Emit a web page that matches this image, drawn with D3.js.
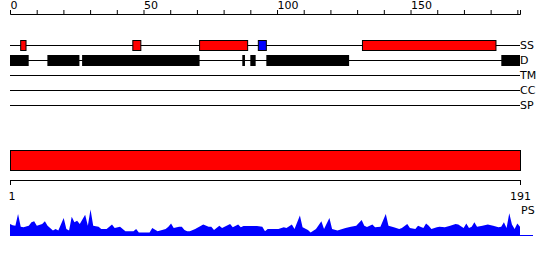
<!DOCTYPE html>
<html>
<head>
<meta charset="utf-8">
<script src="https://cdn.jsdelivr.net/npm/d3@7"></script>
<style>
  body { margin: 0; background: #fff; }
  svg { display: block; font-family: "DejaVu Sans", sans-serif; font-size: 11px; }
</style>
</head>
<body>
<svg width="550" height="260"></svg>
<script>
var svg = d3.select('svg');

// tracks and their features (residue ranges)
var tracks = ["SS", "D", "TM", "CC", "SP"];
var ssHelix = [[4, 6], [46, 49], [71, 89], [132, 182]];
var ssStrand = [[93, 96]];
var disorder = [[0, 7], [14, 26], [27, 71], [87, 88], [90, 92], [96, 127], [184, 191]];
var domains = [[1, 191]];
var seqEnds = [1, 191];
var topLabels = [0, 50, 100, 150];

// PS profile
var psPos = [1, 2, 3, 4, 5, 6, 8, 9, 10, 11, 13, 14, 15, 17, 18, 19, 21, 22, 23, 24, 25, 26, 27, 29, 30, 31, 32, 34, 35, 37,
    39, 40, 42, 44, 47, 48, 49, 53, 54, 56, 59, 60, 61, 62, 64, 65, 66, 67, 68, 70, 73, 75, 76, 77, 79, 80, 83, 84, 86, 87,
    88, 91, 93, 95, 96, 97, 101, 103, 104, 106, 107, 109, 110, 112, 113, 115, 117, 118, 120, 121, 123, 126, 128, 130, 132, 133, 134, 136, 137, 139,
    141, 142, 144, 146, 147, 149, 150, 152, 153, 155, 156, 157, 158, 160, 161, 163, 165, 167, 168, 170, 171, 172, 173, 174, 175, 177, 179, 181, 183, 184,
    185, 186, 187, 188, 189, 190, 191];
var psVal = [0.40, 0.36, 0.34, 0.73, 0.31, 0.29, 0.34, 0.46, 0.49, 0.34, 0.40, 0.49, 0.34, 0.18, 0.23, 0.18, 0.60, 0.23, 0.18, 0.64, 0.46, 0.51, 0.40, 0.71, 0.34, 0.88, 0.34, 0.31, 0.23, 0.23,
    0.38, 0.27, 0.31, 0.16, 0.16, 0.23, 0.12, 0.12, 0.27, 0.16, 0.23, 0.31, 0.42, 0.27, 0.31, 0.31, 0.20, 0.16, 0.16, 0.23, 0.38, 0.31, 0.31, 0.20, 0.34, 0.27, 0.40, 0.29, 0.38, 0.29,
    0.33, 0.33, 0.33, 0.31, 0.16, 0.23, 0.23, 0.29, 0.27, 0.38, 0.23, 0.68, 0.29, 0.20, 0.12, 0.23, 0.49, 0.23, 0.60, 0.23, 0.18, 0.27, 0.31, 0.34, 0.53, 0.34, 0.30, 0.38, 0.29, 0.31,
    0.73, 0.34, 0.29, 0.23, 0.27, 0.40, 0.27, 0.23, 0.34, 0.27, 0.42, 0.34, 0.23, 0.29, 0.31, 0.29, 0.34, 0.40, 0.38, 0.27, 0.42, 0.27, 0.31, 0.46, 0.31, 0.34, 0.38, 0.34, 0.29, 0.31,
    0.46, 0.27, 0.76, 0.38, 0.23, 0.42, 0.31];

var x = d3.scaleLinear().domain([0, 191]).range([10, 520]);
var x2 = d3.scaleLinear().domain([1, 191]).range([10, 520]);
var yTrack = d3.scalePoint().domain(tracks).range([45.5, 105.5]);
var yPs = d3.scaleLinear().domain([0, 1]).range([236, 206]);

// top ruler
var topAxis = d3.axisTop(x)
    .tickValues(d3.range(0, 191, 10))
    .tickSize(4)
    .tickSizeOuter(4)
    .tickPadding(1)
    .tickFormat(function(d) { return topLabels.indexOf(d) >= 0 ? d : ""; });
var gTop = svg.append("g").attr("transform", "translate(0,14)").call(topAxis);
gTop.selectAll("text").attr("text-anchor", "start").attr("fill", "#000")
    .style("font-size", "11px").style("font-family", "DejaVu Sans");
gTop.selectAll("path, line").attr("stroke", "#000");

// track lines + labels
svg.selectAll(".track")
    .data(tracks)
    .enter()
    .append("line")
    .attr("x1", x(0))
    .attr("x2", x(191))
    .attr("y1", function(d) { return yTrack(d); })
    .attr("y2", function(d) { return yTrack(d); })
    .attr("stroke", "black");

svg.selectAll(".tlabel")
    .data(tracks)
    .enter()
    .append("text")
    .attr("x", x(191))
    .attr("y", function(d) { return yTrack(d); })
    .attr("dy", "0.35em")
    .text(function(d) { return d; });

// disorder
svg.selectAll(".dis")
    .data(disorder)
    .enter()
    .append("rect")
    .attr("x", function(d) { return x(d[0]); })
    .attr("width", function(d) { return x(d[1]) - x(d[0]); })
    .attr("y", yTrack("D") - 5.5)
    .attr("height", 11)
    .attr("fill", "black");

// secondary structure
function ssBoxes(data, color) {
    svg.selectAll(null)
        .data(data)
        .enter()
        .append("rect")
        .attr("x", function(d) { return x(d[0]); })
        .attr("width", function(d) { return x(d[1]) - x(d[0]); })
        .attr("y", yTrack("SS") - 5)
        .attr("height", 10)
        .attr("fill", color)
        .attr("stroke", "black");
}
ssBoxes(ssHelix, "#ff0000");
ssBoxes(ssStrand, "#0000ff");

// domain bar
svg.selectAll(".dom")
    .data(domains)
    .enter()
    .append("rect")
    .attr("x", function(d) { return x2(d[0]) + 0.5; })
    .attr("width", function(d) { return x2(d[1]) - x2(d[0]); })
    .attr("y", 150.5)
    .attr("height", 20)
    .attr("fill", "#ff0000")
    .attr("stroke", "black");

// lower ruler
var botAxis = d3.axisBottom(x2)
    .tickValues(seqEnds)
    .tickSize(5)
    .tickSizeOuter(5)
    .tickPadding(7)
    .tickFormat(d3.format("d"));
var gBot = svg.append("g").attr("transform", "translate(0,180)").call(botAxis);
gBot.selectAll("text").attr("fill", "#000")
    .style("font-size", "11px").style("font-family", "DejaVu Sans");
gBot.selectAll("text").filter(function(d) { return d === 1; }).attr("dx", "1.5");
gBot.selectAll("path, line").attr("stroke", "#000");

// PS profile
var psData = psPos.map(function(p, i) { return { pos: p, val: psVal[i] }; });
var area = d3.area()
    .x(function(d) { return x2(d.pos); })
    .y0(yPs(0))
    .y1(function(d) { return yPs(d.val); });

svg.append("path")
    .datum(psData)
    .attr("d", area)
    .attr("fill", "#0000ff");

svg.append("line")
    .attr("x1", x2(1))
    .attr("x2", 533)
    .attr("y1", 235.5)
    .attr("y2", 235.5)
    .attr("stroke", "#0000ff");

svg.append("text")
    .attr("x", x2(191) + 1)
    .attr("y", 214)
    .text("PS");
</script>
</body>
</html>
